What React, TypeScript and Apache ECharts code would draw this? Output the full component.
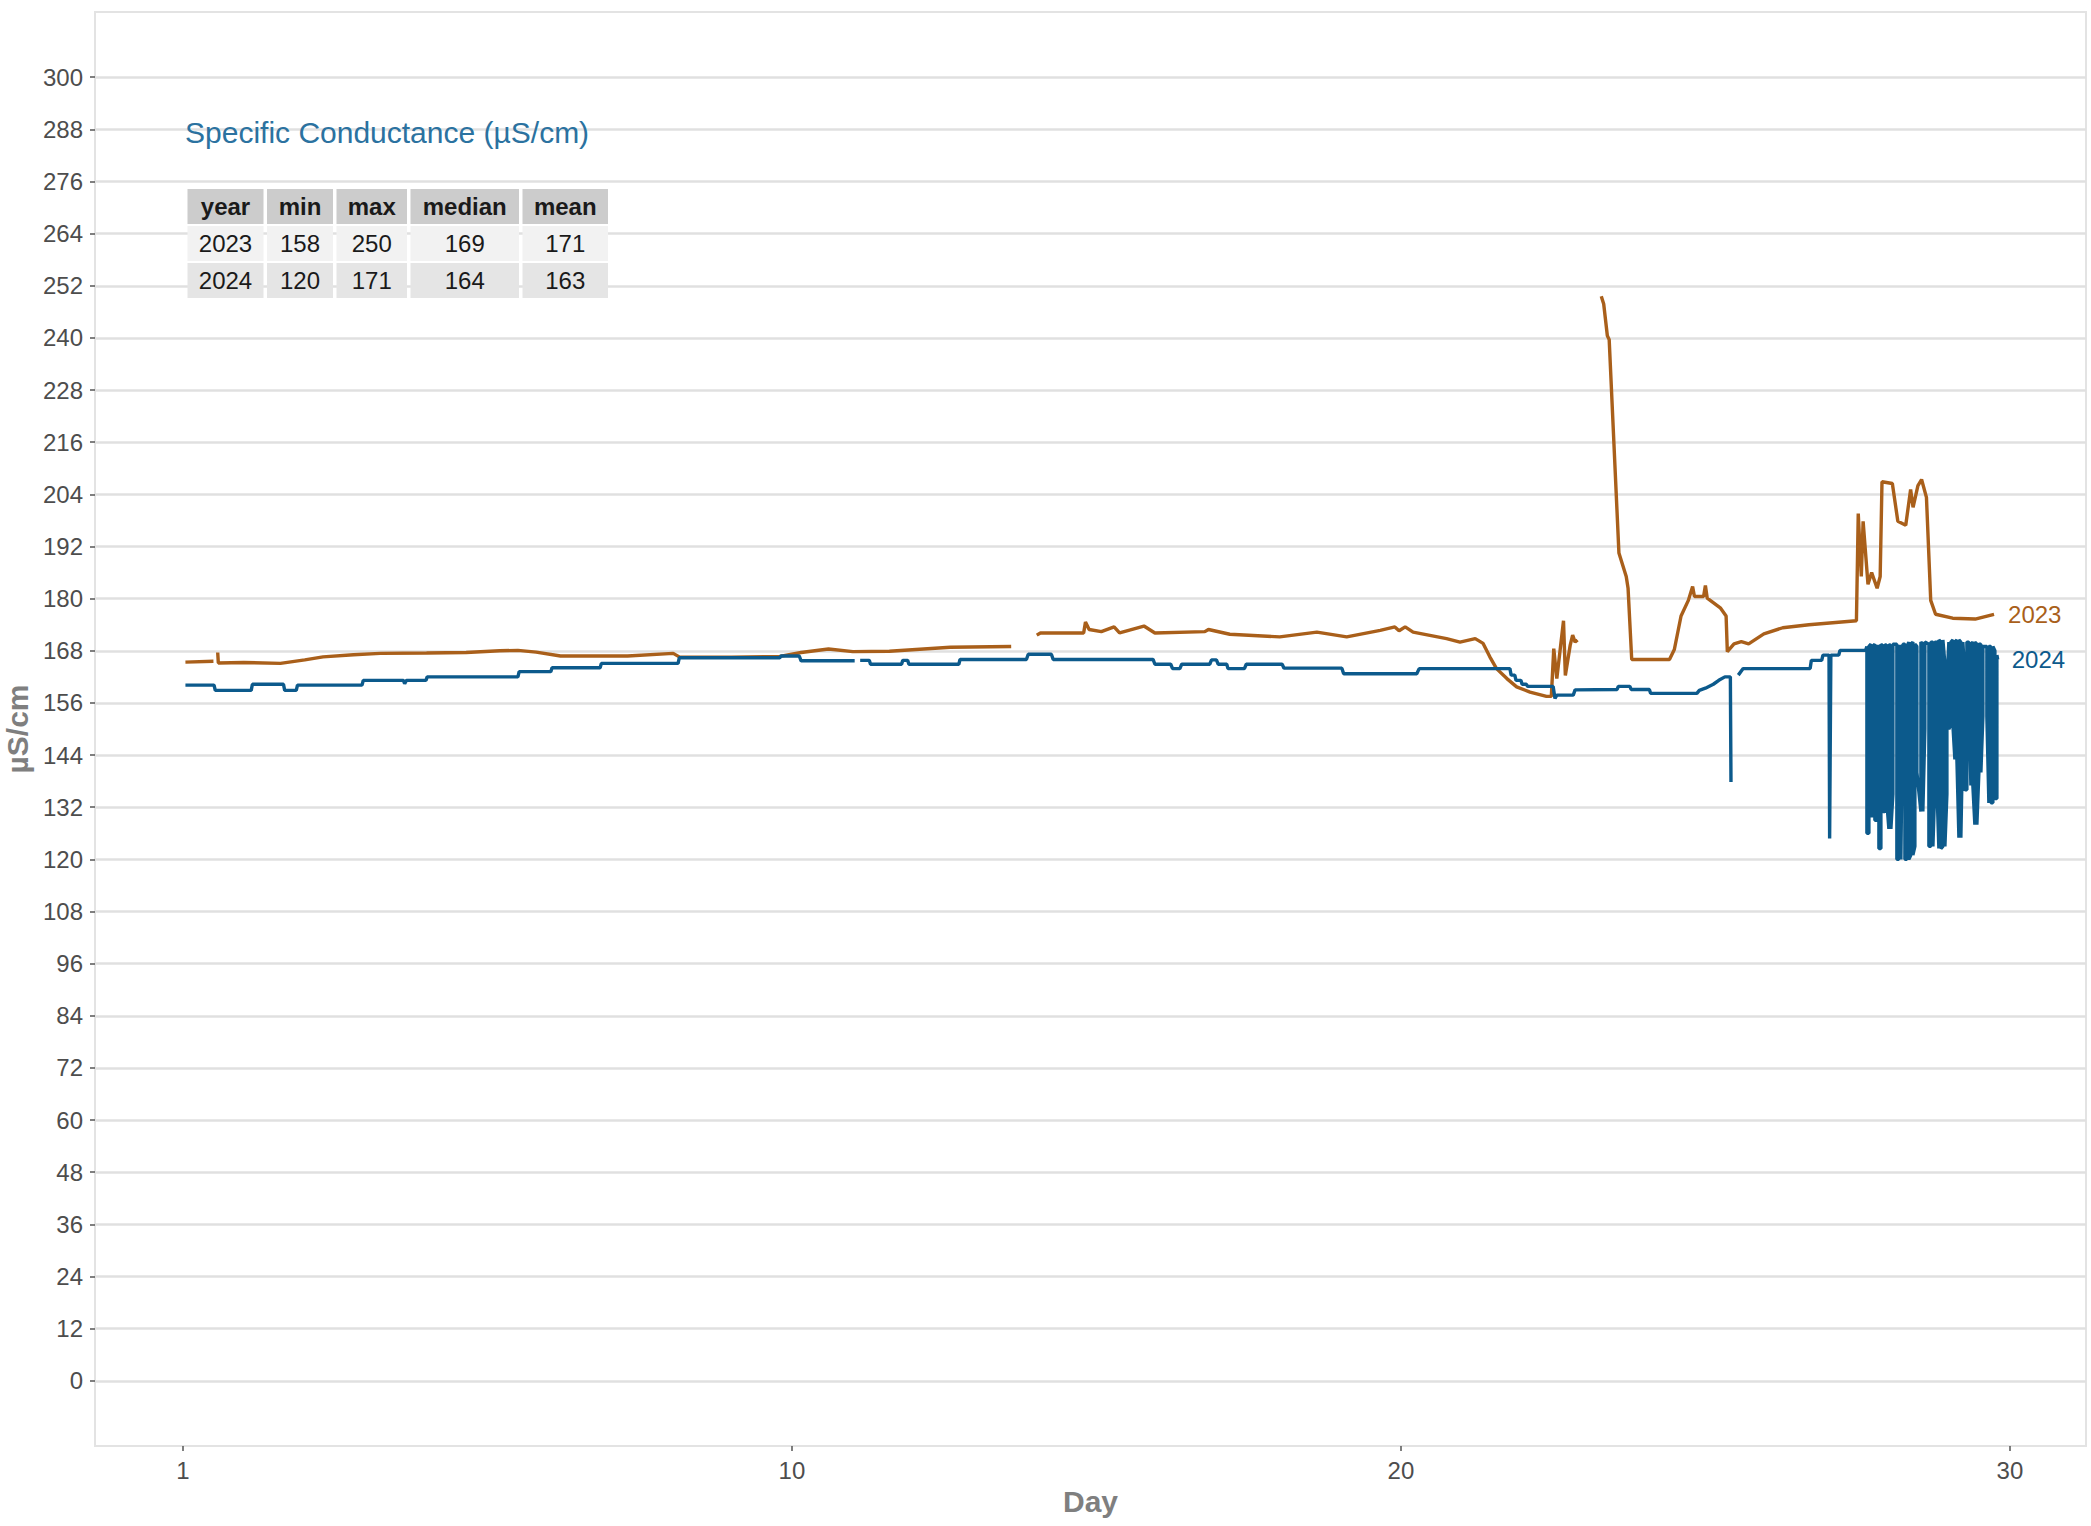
import React, { useEffect, useRef } from "react";
import * as echarts from "echarts";

// ---- axis ticks ----
const yTicks = [0, 12, 24, 36, 48, 60, 72, 84, 96, 108, 120, 132, 144, 156, 168, 180, 192, 204, 216, 228, 240, 252, 264, 276, 288, 300];
const xTickPositions = [0, 10, 20, 30];
const xTickLabels = ["1", "10", "20", "30"];

// ---- series ----
const seriesNames = ["2023", "2024"];
const seriesColors = ["#a95f1a", "#0c5a8c"];

const spc2023: [number, number | null][] = [
  [0.04, 165.4], [0.5, 165.6], [0.53, null], [0.57, 167.6], [0.58, 165.2], [1.0, 165.3], [1.6, 165.1], [2.0, 165.9],
  [2.3, 166.6], [2.8, 167.1], [3.24, 167.4], [4.0, 167.5], [4.65, 167.6], [5.2, 168.0], [5.5, 168.1], [5.8, 167.7],
  [6.2, 166.8], [7.3, 166.8], [8.05, 167.4], [8.15, 166.6], [9.0, 166.5], [9.8, 166.7], [10.15, 167.6], [10.6, 168.4],
  [11.0, 167.8], [11.6, 167.9], [12.6, 168.8], [13.6, 169.0], [13.8, null],
  [14.02, 171.6], [14.08, 172.1], [14.79, 172.1], [14.82, 174.6], [14.88, 172.9], [15.08, 172.4], [15.29, 173.5],
  [15.38, 172.1], [15.78, 173.7], [15.96, 172.1], [16.78, 172.4], [16.84, 172.9], [17.19, 171.8], [18.01, 171.2],
  [18.62, 172.3], [19.11, 171.2], [19.66, 172.7], [19.9, 173.5], [19.97, 172.6], [20.07, 173.5], [20.2, 172.3],
  [20.75, 170.8], [20.97, 170.0], [21.22, 170.8], [21.35, 169.7], [21.46, 166.6], [21.57, 163.9], [21.74, 161.6],
  [21.9, 159.7], [22.12, 158.5], [22.39, 157.5], [22.47, 157.5], [22.51, 168.5], [22.56, 161.6], [22.67, 174.9],
  [22.7, 162.3], [22.78, 169.3], [22.82, 171.6], [22.86, 170.0], [22.9, 170.5], [23.1, null],
  [23.29, 249.6], [23.33, 247.8], [23.39, 240.5], [23.42, 239.6], [23.58, 190.5], [23.7, 185.1], [23.73, 182.4],
  [23.79, 166.0], [24.41, 166.0], [24.49, 168.3], [24.6, 176.0], [24.72, 179.6], [24.79, 182.8], [24.82, 180.5],
  [24.97, 180.5], [25.0, 183.0], [25.03, 180.1], [25.25, 177.8], [25.34, 176.0], [25.36, 167.8], [25.47, 169.6],
  [25.59, 170.1], [25.71, 169.6], [25.96, 171.9], [26.27, 173.3], [26.7, 174.0], [27.48, 174.9], [27.51, 199.6],
  [27.56, 185.1], [27.59, 197.8], [27.67, 183.3], [27.73, 186.0], [27.82, 182.4], [27.87, 185.1], [27.9, 206.9],
  [28.07, 206.5], [28.16, 197.8], [28.29, 196.9], [28.37, 205.1], [28.41, 201.0], [28.49, 206.0], [28.55, 207.4],
  [28.63, 203.3], [28.7, 179.6], [28.78, 176.4], [29.06, 175.5], [29.43, 175.3], [29.74, 176.4],
];

const spc2024: [number, number | null][] = [
  [0.04, 160.1], [0.51, 160.1], [0.53, 158.9], [1.12, 158.9], [1.14, 160.3], [1.65, 160.3], [1.67, 158.9], [1.86, 158.9],
  [1.88, 160.1], [2.94, 160.1], [2.96, 161.2], [3.62, 161.2], [3.64, 160.4], [3.67, 161.2], [3.99, 161.2], [4.01, 162.0],
  [5.5, 162.0], [5.52, 163.2], [6.04, 163.2], [6.06, 164.1], [6.85, 164.1], [6.87, 165.1], [8.13, 165.1], [8.15, 166.4],
  [9.8, 166.4], [9.82, 166.8], [10.12, 166.8], [10.15, 165.7], [11.03, 165.7], [11.07, null], [11.12, 165.8],
  [11.27, 165.8], [11.29, 164.9], [11.8, 164.9], [11.82, 165.8], [11.9, 165.8], [11.92, 164.9], [12.74, 164.9],
  [12.76, 166.0], [13.85, 166.0], [13.88, 167.2], [14.26, 167.2], [14.29, 166.0], [15.93, 166.0], [15.96, 164.9],
  [16.22, 164.9], [16.25, 163.9], [16.37, 163.9], [16.4, 164.9], [16.86, 164.9], [16.89, 165.9], [16.97, 165.9],
  [17.0, 164.9], [17.14, 164.9], [17.16, 163.9], [17.43, 163.9], [17.46, 164.9], [18.05, 164.9], [18.08, 164.0],
  [19.03, 164.0], [19.06, 162.7], [20.26, 162.7], [20.3, 163.9], [21.79, 163.9], [21.81, 162.4], [21.87, 162.4],
  [21.89, 161.2], [21.97, 161.2], [21.99, 160.3], [22.06, 160.3], [22.08, 159.8], [22.5, 159.8], [22.53, 157.0],
  [22.56, 157.8], [22.83, 157.8], [22.86, 159.0], [23.55, 159.1], [23.57, 159.8], [23.76, 159.8], [23.78, 159.1],
  [24.08, 159.1], [24.1, 158.2], [24.86, 158.2], [24.9, 158.9], [25.0, 159.4], [25.13, 160.3], [25.22, 161.2],
  [25.32, 162.0], [25.41, 162.0], [25.42, 137.8], [25.44, null], [25.54, 162.4], [25.62, 163.9], [26.72, 163.9],
  [26.74, 165.8], [26.91, 165.8], [26.93, 167.0], [27.03, 167.0], [27.04, 124.8], [27.06, 167.0], [27.19, 167.0],
  [27.21, 168.1], [27.63, 168.1],
];

// Rapid oscillation of 2024 over the last two days: [day, high, low] per stroke
const dense2024: [number, number, number][] = [
  [27.652, 169, 126], [27.685, 169, 126], [27.718, 169.5, 130], [27.75, 169, 130], [27.783, 169.5, 129],
  [27.816, 169, 129], [27.849, 169, 122.5], [27.882, 169.5, 122.5], [27.915, 169, 131], [27.947, 169.5, 131],
  [27.98, 169, 133], [28.013, 169.5, 127], [28.046, 169, 127], [28.079, 169.5, 135],
  [28.144, 169.5, 120], [28.177, 169, 120], [28.21, 169, 120], [28.243, 169.5, 161], [28.276, 169.5, 120],
  [28.309, 169, 120], [28.341, 170, 120], [28.374, 169.5, 121], [28.407, 170, 121], [28.44, 169.5, 123],
  [28.473, 169, 140], [28.539, 170, 131], [28.571, 169.5, 131], [28.604, 170, 150],
  [28.67, 169.5, 123], [28.703, 170, 123], [28.736, 170, 123], [28.768, 170, 137], [28.801, 170, 137],
  [28.834, 170.5, 122.5], [28.867, 170, 122.5], [28.9, 170.5, 123], [28.933, 165, 123], [28.966, 161, 135],
  [28.998, 170, 150], [29.031, 170, 151], [29.064, 170.5, 151], [29.097, 170, 143], [29.13, 170.5, 143],
  [29.163, 170.5, 125], [29.195, 170, 125], [29.228, 170, 150], [29.261, 162, 136], [29.294, 170, 136],
  [29.327, 170, 156], [29.36, 169.5, 137], [29.392, 170, 137], [29.425, 170, 128], [29.458, 169.5, 128],
  [29.491, 169.5, 140], [29.524, 169.5, 140], [29.557, 169, 153], [29.622, 169, 153], [29.655, 169, 133],
  [29.688, 169, 133], [29.721, 169, 133], [29.754, 168, 134], [29.787, 167, 134],
];
const end2024: [number, number] = [29.8, 166];

// ---- summary table ----
const tableTitle = "Specific Conductance (µS/cm)";
const tableHeader = ["year", "min", "max", "median", "mean"];
const tableRows = [
  ["2023", "158", "250", "169", "171"],
  ["2024", "120", "171", "164", "163"],
];

const FONT = '"Liberation Sans", Arial, Helvetica, sans-serif';

function buildTable() {
  const colWidths = [76, 66, 70.5, 108.5, 85.5];
  const gap = 3.5;
  const left = 187.5;
  const top = 189;
  const rowH = 35;
  const rowPitch = 37;
  const rowFills = ["#cccccc", "#f2f2f2", "#e5e5e5"];
  const els: any[] = [];
  els.push({
    type: "text",
    x: 185,
    y: 132,
    z: 100,
    silent: true,
    style: { text: tableTitle, fill: "#2b72a0", fontSize: 30, fontFamily: FONT, align: "left", verticalAlign: "middle" },
  });
  const rows = [tableHeader, ...tableRows];
  rows.forEach((row, r) => {
    let x = left;
    row.forEach((cell, c) => {
      const w = colWidths[c];
      const y = top + r * rowPitch;
      els.push({ type: "rect", z: 100, silent: true, shape: { x, y, width: w, height: rowH }, style: { fill: rowFills[r] } });
      els.push({
        type: "text",
        z: 101,
        silent: true,
        x: x + w / 2,
        y: y + rowH / 2,
        style: {
          text: cell,
          fill: "#1a1a1a",
          fontSize: 24,
          fontWeight: r === 0 ? "bold" : "normal",
          fontFamily: FONT,
          align: "center",
          verticalAlign: "middle",
        },
      });
      x += w + gap;
    });
  });
  return els;
}

function build2024(): [number, number | null][] {
  const out: [number, number | null][] = [...spc2024];
  dense2024.forEach(([d, hi, lo], i) => {
    if (i % 2 === 0) {
      out.push([d, hi], [d, lo]);
    } else {
      out.push([d, lo], [d, hi]);
    }
  });
  out.push(end2024);
  return out;
}

export default function App() {
  const ref = useRef<HTMLDivElement>(null);
  useEffect(() => {
    if (!ref.current) return;
    const chart = echarts.init(ref.current, undefined, { renderer: "svg" });
    const datasets = [spc2023, build2024()];
    chart.setOption({
      animation: false,
      backgroundColor: "#ffffff",
      textStyle: { fontFamily: FONT },
      grid: {
        left: 95,
        right: 5,
        top: 12,
        bottom: 80,
        outerBoundsMode: "none",
        containLabel: false,
        show: true,
        backgroundColor: "#ffffff",
        borderColor: "#e3e3e3",
        borderWidth: 2,
      },
      xAxis: {
        type: "value",
        min: -1.445,
        max: 31.25,
        name: "Day",
        nameLocation: "middle",
        nameGap: 37,
        nameTextStyle: { fontSize: 30, fontWeight: "bold", color: "#7f7f7f", fontFamily: FONT },
        axisLine: { show: false, onZero: false },
        axisTick: { show: true, length: 5, customValues: xTickPositions, lineStyle: { color: "#555555", width: 1.5 } },
        axisLabel: {
          show: true,
          customValues: xTickPositions,
          margin: 12,
          fontSize: 24,
          color: "#4d4d4d",
          fontFamily: FONT,
          formatter: (v: number) => {
            const i = xTickPositions.indexOf(v);
            return i >= 0 ? xTickLabels[i] : "";
          },
        },
        splitLine: { show: false },
      },
      yAxis: {
        type: "value",
        min: -15,
        max: 315,
        name: "µS/cm",
        nameLocation: "middle",
        nameGap: 62,
        nameTextStyle: { fontSize: 30, fontWeight: "bold", color: "#7f7f7f", fontFamily: FONT },
        axisLine: { show: false, onZero: false },
        axisTick: { show: true, length: 5, customValues: yTicks, lineStyle: { color: "#555555", width: 1.5 } },
        axisLabel: {
          show: true,
          customValues: yTicks,
          margin: 12,
          fontSize: 24,
          color: "#4d4d4d",
          fontFamily: FONT,
        },
        splitLine: { show: false },
      },
      series: [
        {
          type: "line",
          name: "grid",
          data: [],
          z: 1,
          silent: true,
          markLine: {
            silent: true,
            z: 1,
            symbol: ["none", "none"],
            label: { show: false },
            lineStyle: { color: "#e0e0e0", width: 2.5, type: "solid" },
            data: yTicks.map((v) => ({ yAxis: v })),
          },
        },
        ...datasets.map((d, i) => ({
          type: "line",
          name: seriesNames[i],
          data: d,
          z: 3,
          showSymbol: false,
          symbol: "none",
          connectNulls: false,
          lineStyle: { color: seriesColors[i], width: 3.4 },
          itemStyle: { color: seriesColors[i] },
          endLabel: {
            show: true,
            formatter: "{a}",
            distance: 14,
            fontSize: 24,
            color: seriesColors[i],
            fontFamily: FONT,
          },
        })),
      ],
      graphic: buildTable(),
    });
    return () => chart.dispose();
  }, []);
  return <div ref={ref} style={{ position: "fixed", left: 0, top: 0, width: 2091, height: 1526 }} />;
}
